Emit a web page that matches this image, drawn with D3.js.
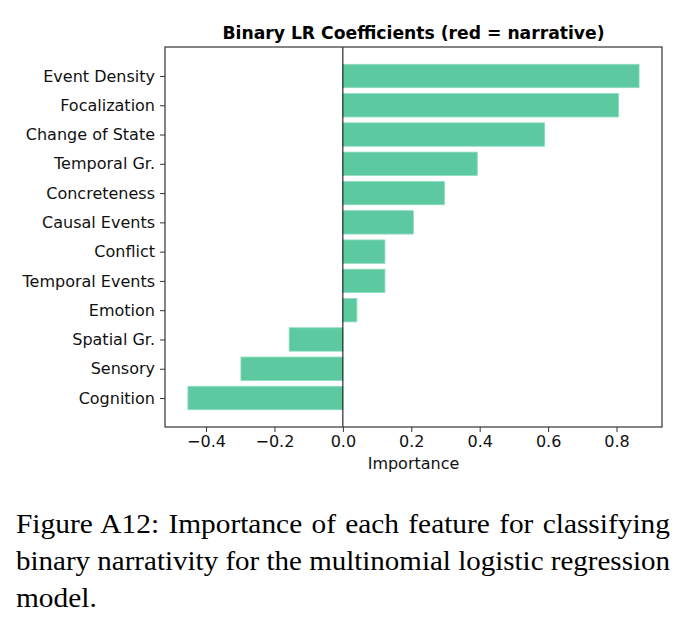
<!DOCTYPE html>
<html>
<head>
<meta charset="utf-8">
<script src="https://cdn.jsdelivr.net/npm/d3@7"></script>
<style>
body{margin:0;background:#fff;}
svg{display:block;}
</style>
</head>
<body>
<svg id="chart" width="686" height="630"></svg>
<script>
const categories = ["Event Density","Focalization","Change of State","Temporal Gr.","Concreteness","Causal Events","Conflict","Temporal Events","Emotion","Spatial Gr.","Sensory","Cognition"];
const values = [0.866,0.806,0.590,0.393,0.297,0.206,0.123,0.123,0.041,-0.157,-0.298,-0.453];
const xTicks = [-0.4,-0.2,0.0,0.2,0.4,0.6,0.8];
const title = "Binary LR Coefficients (red = narrative)";
const xLabel = "Importance";
const captionLines = ["Figure A12: Importance of each feature for classifying","binary narrativity for the multinomial logistic regression","model."];

const svg = d3.select("#chart");
const L = 165, R = 662, T = 47, B = 427;
const x = d3.scaleLinear().domain([-0.52, 0.933]).range([L, R]);
const n = categories.length;
const y = d3.scaleLinear().domain([-0.99, n - 1 + 0.99]).range([T, B]);
const bh = (y(0.8) - y(0));

const g = svg.append("g");
g.selectAll("rect.bar").data(values).join("rect")
  .attr("class","bar")
  .attr("x", d => Math.min(x(0), x(d)))
  .attr("width", d => Math.abs(x(d) - x(0)))
  .attr("y", (d,i) => y(i) - bh/2)
  .attr("height", bh)
  .attr("fill", "#5cc9a0")
  .attr("stroke", "#8fdcbf")
  .attr("stroke-width", 0.8);

g.append("line").attr("x1", x(0)).attr("x2", x(0)).attr("y1", T).attr("y2", B)
  .attr("stroke", "#000").attr("stroke-width", 1);

g.append("rect").attr("x", L).attr("y", T).attr("width", R-L).attr("height", B-T)
  .attr("fill","none").attr("stroke","#333").attr("stroke-width",1.2);

const xAxis = d3.axisBottom(x).tickValues(xTicks).tickSize(5).tickPadding(4)
  .tickFormat(d => d3.format(".1f")(d).replace("-", "\u2212"));
const xa = svg.append("g").attr("transform", `translate(0,${B})`).call(xAxis);
xa.select(".domain").remove();
xa.selectAll("line").attr("stroke","#333");
xa.selectAll("text").attr("font-family","DejaVu Sans").attr("font-size",16).attr("fill","#111");

const yAxis = d3.axisLeft(y).tickValues(d3.range(n)).tickSize(5).tickPadding(5)
  .tickFormat(i => categories[i]);
const ya = svg.append("g").attr("transform", `translate(${L},0)`).call(yAxis);
ya.select(".domain").remove();
ya.selectAll("line").attr("stroke","#333");
ya.selectAll("text").attr("font-family","DejaVu Sans").attr("font-size",16).attr("fill","#111");

svg.append("text").attr("x", (L+R)/2).attr("y", 39).attr("text-anchor","middle")
  .attr("font-family","DejaVu Sans").attr("font-weight","bold").attr("font-size",17.2)
  .attr("fill","#000").text(title);

svg.append("text").attr("x", (L+R)/2).attr("y", 469).attr("text-anchor","middle")
  .attr("font-family","DejaVu Sans").attr("font-size",16).attr("fill","#111").text(xLabel);

const cap = svg.append("g");
const baselines = [533, 570, 607];
const sx = 1.05;
captionLines.forEach((t,i) => {
  const el = cap.append("text").attr("x", 0).attr("y", 0)
    .attr("transform", `translate(16,${baselines[i]}) scale(${sx},1)`)
    .attr("font-family","Liberation Serif").attr("font-size",28).attr("fill","#000").text(t);
  if (i < captionLines.length - 1) {
    const target = 654 / sx;
    const w = el.node().getComputedTextLength();
    const spaces = (t.match(/ /g) || []).length;
    if (w < target) el.attr("word-spacing", ((target - w) / spaces).toFixed(2));
    else el.attr("textLength", target).attr("lengthAdjust", "spacingAndGlyphs");
  }
});
</script>
</body>
</html>
